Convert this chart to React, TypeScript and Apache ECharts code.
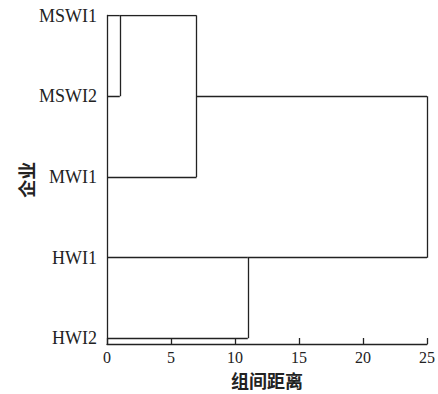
import React, { useEffect, useRef } from "react";
import * as echarts from "echarts";

// Leaves (top to bottom)
const categories = ["MSWI1", "MSWI2", "MWI1", "HWI1", "HWI2"];
// Agglomeration steps: child ids ("L#" = leaf index, "M#" = merge index), merge distance, node row
const mergeChildA = ["L0", "M0", "L3", "M1"];
const mergeChildB = ["L1", "L2", "L4", "M2"];
const mergeDistance = [1, 7, 11, 25];
const mergeRow = [0, 1, 3, 2];
const xTicks = [0, 5, 10, 15, 20, 25];

const xName = "组间距离";
const yName = "企业";

function buildSegments() {
  const segs: number[][][] = [];
  const info = (id: string) => {
    const idx = parseInt(id.slice(1), 10);
    if (id[0] === "L") return { row: idx, h: 0 };
    return { row: mergeRow[idx], h: mergeDistance[idx] };
  };
  mergeDistance.forEach((d, i) => {
    const a = info(mergeChildA[i]);
    const b = info(mergeChildB[i]);
    segs.push([[a.h, a.row], [d, a.row]]);
    segs.push([[b.h, b.row], [d, b.row]]);
    segs.push([[d, a.row], [d, b.row]]);
  });
  return segs;
}

export default function App() {
  const ref = useRef<HTMLDivElement>(null);
  useEffect(() => {
    if (!ref.current) return;
    const chart = echarts.init(ref.current, null, { renderer: "svg" });
    const latin = "'Liberation Serif', 'Noto Sans CJK SC', serif";
    const ink = "#222";
    chart.setOption({
      animation: false,
      backgroundColor: "#fff",
      grid: { left: 107, right: 11, top: 15.5, bottom: 45.5, containLabel: false },
      xAxis: {
        type: "value",
        position: "bottom",
        min: xTicks[0],
        max: xTicks[xTicks.length - 1],
        interval: 5,
        name: xName,
        nameLocation: "middle",
        nameGap: 27,
        nameMoveOverlap: false,
        nameTextStyle: { fontFamily: "'Noto Sans CJK SC', sans-serif", fontSize: 18, color: ink, fontWeight: "bold" },
        axisLine: { show: true, onZero: false, lineStyle: { color: ink, width: 1.3 } },
        axisTick: { show: true, inside: true, length: 6, lineStyle: { color: ink, width: 1.3 } },
        axisLabel: { fontFamily: latin, fontSize: 16, color: ink, margin: 5 },
        splitLine: { show: false },
      },
      yAxis: {
        type: "value",
        position: "left",
        inverse: true,
        min: 0,
        max: 4.07,
        interval: 1,
        name: yName,
        nameLocation: "middle",
        nameRotate: 90,
        nameGap: 72,
        nameMoveOverlap: false,
        nameTextStyle: { fontFamily: "'Noto Sans CJK SC', sans-serif", fontSize: 18, color: ink, fontWeight: "bold" },
        axisLine: { show: true, onZero: false, lineStyle: { color: ink, width: 1.3 } },
        axisTick: { show: false },
        axisLabel: {
          fontFamily: latin,
          fontSize: 18,
          color: ink,
          margin: 10,
          formatter: (v: number) => (Math.abs(v - Math.round(v)) < 1e-6 ? categories[Math.round(v)] ?? "" : ""),
        },
        splitLine: { show: false },
      },
      series: [
        {
          type: "lines",
          coordinateSystem: "cartesian2d",
          polyline: false,
          silent: true,
          lineStyle: { color: ink, width: 1.3, opacity: 1 },
          data: buildSegments().map((c) => ({ coords: c })),
        },
      ],
    });
    return () => chart.dispose();
  }, []);
  return (
    <div
      ref={ref}
      style={{ position: "fixed", left: 0, top: 0, width: 438, height: 394, background: "#fff" }}
    />
  );
}
